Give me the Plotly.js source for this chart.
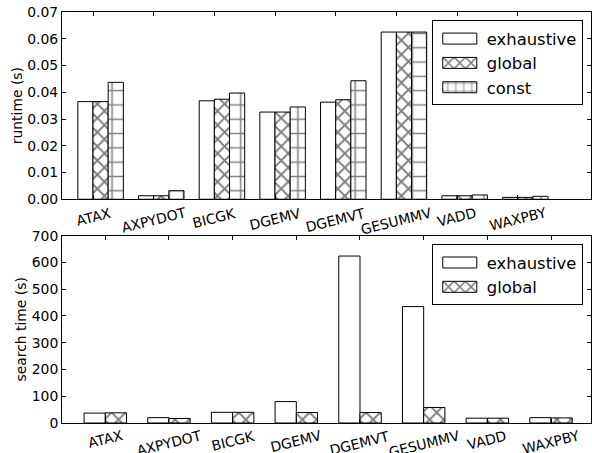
<!DOCTYPE html>
<html>
<head>
<meta charset="utf-8">
<script src="https://cdn.plot.ly/plotly-3.0.1.min.js"></script>
<style>html,body{margin:0;padding:0;background:#fff;} #chart{width:592px;height:453px;}</style>
</head>
<body>
<div id="chart"></div>
<script>
const categories = ['ATAX','AXPYDOT','BICGK','DGEMV','DGEMVT','GESUMMV','VADD','WAXPBY'];
const runtimeExhaustive = [0.0365, 0.0013, 0.0368, 0.0326, 0.0363, 0.0625, 0.0013, 0.0007];
const runtimeGlobal     = [0.0365, 0.0013, 0.0374, 0.0326, 0.0372, 0.0625, 0.0013, 0.0007];
const runtimeConst      = [0.0437, 0.0032, 0.0397, 0.0345, 0.0443, 0.0625, 0.0016, 0.0011];
const searchExhaustive  = [37, 20, 40, 80, 624, 435, 18, 20];
const searchGlobal      = [38, 17, 40, 39, 39, 58, 18, 19];
const runtimeTicks = [0, 0.01, 0.02, 0.03, 0.04, 0.05, 0.06, 0.07];
const searchTicks = [0, 100, 200, 300, 400, 500, 600, 700];

const idx = categories.map((_, i) => i);
const FONT = 'DejaVu Sans, sans-serif';
const line = {color: '#000', width: 1};
const patX = {shape: 'x', size: 10, solidity: 0.34, fgcolor: '#000', bgcolor: '#fff', fillmode: 'overlay'};
const patPlus = {shape: '+', size: 14.3, solidity: 0.2, fgcolor: '#000', bgcolor: '#fff', fillmode: 'overlay'};

const w1 = 0.25, w2 = 1/3;
const traces = [
  {type:'bar', name:'exhaustive', x: idx, y: runtimeExhaustive, width: w1, offset: -w1, xaxis:'x', yaxis:'y',
   marker:{color:'#fff', line}, legend:'legend'},
  {type:'bar', name:'global', x: idx, y: runtimeGlobal, width: w1, offset: 0, xaxis:'x', yaxis:'y',
   marker:{color:'#fff', line, pattern: patX}, legend:'legend'},
  {type:'bar', name:'const', x: idx, y: runtimeConst, width: w1, offset: w1, xaxis:'x', yaxis:'y',
   marker:{color:'#fff', line, pattern: patPlus}, legend:'legend'},
  {type:'bar', name:'exhaustive', x: idx, y: searchExhaustive, width: w2, offset: -w2, xaxis:'x2', yaxis:'y2',
   marker:{color:'#fff', line}, legend:'legend2'},
  {type:'bar', name:'global', x: idx, y: searchGlobal, width: w2, offset: 0, xaxis:'x2', yaxis:'y2',
   marker:{color:'#fff', line, pattern: patX}, legend:'legend2'}
];

const axisCommon = {showline:true, linecolor:'#000', linewidth:1, mirror:'ticks', ticks:'inside', ticklen:4,
  tickcolor:'#000', showgrid:false, zeroline:false, tickfont:{family:FONT, size:13.9, color:'#000'}};

const annotations = [];
categories.forEach((c, i) => {
  annotations.push({x: i, xref:'x', y: 0, yref:'y domain', text: c, showarrow:false, textangle:-14,
    xanchor:'center', yanchor:'top', yshift:-3, font:{family:FONT, size:13.9, color:'#000'}});
  annotations.push({x: i, xref:'x2', y: 0, yref:'y2 domain', text: c, showarrow:false, textangle:-14,
    xanchor:'center', yanchor:'top', yshift:-2, font:{family:FONT, size:13.9, color:'#000'}});
});

const legendCommon = {xanchor:'left', yanchor:'top', bgcolor:'#fff', bordercolor:'#000', borderwidth:1,
  font:{family:FONT, size:16.4, color:'#000'}, itemwidth:44, traceorder:'normal', tracegroupgap:0};

const layout = {
  width:592, height:453,
  margin:{l:62, r:1, t:12, b:30},
  paper_bgcolor:'#fff', plot_bgcolor:'#fff',
  font:{family:FONT, size:13.9, color:'#000'},
  barmode:'overlay',
  xaxis: Object.assign({}, axisCommon, {domain:[0,1], anchor:'y', range:[-0.511, 8.208], tickvals: idx, showticklabels:false}),
  yaxis: Object.assign({}, axisCommon, {domain:[0.5444,1], anchor:'x', range:[0,0.07], tickvals: runtimeTicks, tickformat:'.2f',
    title:{text:'runtime (s)', font:{family:FONT, size:13.9, color:'#000'}, standoff:1}}),
  xaxis2: Object.assign({}, axisCommon, {domain:[0,1], anchor:'y2', range:[-0.68, 7.628], tickvals: idx, showticklabels:false}),
  yaxis2: Object.assign({}, axisCommon, {domain:[0,0.4557], anchor:'x2', range:[0,700], tickvals: searchTicks,
    title:{text:'search time (s)', font:{family:FONT, size:13.9, color:'#000'}, standoff:1}}),
  legend: Object.assign({}, legendCommon, {x:0.699, y:0.9795}),
  legend2: Object.assign({}, legendCommon, {x:0.699, y:0.4347}),
  annotations,
  showlegend:true
};

Plotly.newPlot('chart', traces, layout, {displayModeBar:false, staticPlot:true}).then(() => {
  document.querySelectorAll('g.legendpoints path').forEach(p => {
    p.setAttribute('d', 'M17,5.5H-17V-5.5H17Z');
  });
});
</script>
</body>
</html>
